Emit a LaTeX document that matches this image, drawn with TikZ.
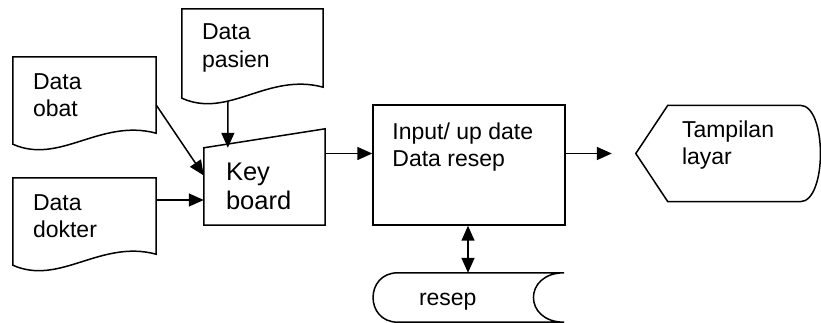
\documentclass[tikz,border=0pt]{standalone}
\usepackage{fontspec}
\setmainfont{Liberation Sans}
\usetikzlibrary{arrows.meta,calc}

\tikzset{
  garis/.style={line width=1.5pt, black, line join=miter},
  panah/.style={line width=1.5pt, ->},
  badan/.style={inner xsep=20pt, inner ysep=0pt, align=left, font=\fontsize{23pt}{27.5pt}\selectfont},
}

\begin{document}
\begin{tikzpicture}[x=1pt, y=1pt, >={Triangle[length=15pt,width=13pt]}]
  \useasboundingbox (0,0) rectangle (821,323);

  % 1. Dokumen masukan (pasien, obat, dokter)
  \node[badan, minimum height=78pt, text width=101pt] (pasien) at (252.5,275) {Data\\pasien};
  \node[badan, minimum height=76pt, text width=103pt] (obat) at (84.5,228) {Data\\obat};
  \node[badan, minimum height=76pt, text width=103pt] (dokter) at (84.5,107) {Data\\dokter};
  \foreach \d in {pasien,obat,dokter}
    \draw[garis] (\d.south east) -- (\d.north east) -- (\d.north west) -- ([yshift=-11pt]\d.south west)
      .. controls ([xshift=47pt,yshift=-32pt]\d.south west) and ([xshift=-56pt,yshift=15pt]\d.south east) .. (\d.south east) -- cycle;

  % 2. Keyboard (input manual)
  \node[badan, font=\fontsize{25.5pt}{29pt}\selectfont, inner xsep=22pt, text width=77pt, minimum height=77pt] (kb) at (264.5,136.5) {Key\\board};
  \draw[garis] (kb.north west) -- ([yshift=19pt]kb.north east) -- (kb.south east) -- (kb.south west) -- cycle;

  % 3. Proses input / update
  \node[garis, draw, minimum width=192pt, minimum height=120pt, inner sep=0pt,
        label={[badan, anchor=north west, yshift=-18pt]north west:Input/ up date\\Data resep}] (proses) at (469,158) {};

  % 4. Tampilan layar (display)
  \node[minimum width=132pt, minimum height=96pt, inner sep=0pt,
        label={[badan, anchor=north west, xshift=-6pt, yshift=-15pt]north west:Tampilan\\layar}] (layar) at (734,169.5) {};
  \draw[garis] (layar.north west) -- ([xshift=-32pt]layar.west) -- (layar.south west) -- (layar.south east)
    .. controls ([xshift=27pt]layar.south east) and ([xshift=27pt]layar.north east) .. (layar.north east) -- cycle;

  % 5. File resep (penyimpanan)
  \node[badan, inner xsep=21pt, text width=124pt, minimum height=49pt, text height=17pt, text depth=0pt] (resep) at (481,25.5) {resep};
  \draw[garis] (resep.north west) -- (resep.north east)
    .. controls ([xshift=-41pt]resep.north east) and ([xshift=-41pt]resep.south east) .. (resep.south east)
    -- (resep.south west)
    .. controls ([xshift=-33pt]resep.south west) and ([xshift=-33pt]resep.north west) .. (resep.north west) -- cycle;

  % 6. Panah
  \draw[panah] ([xshift=-24.5pt,yshift=-14pt]pasien.south) -- ([xshift=24pt]kb.north west);
  \draw[panah] ([yshift=-10pt]obat.east) -- ([yshift=11pt]kb.west);
  \draw[panah] ([yshift=16pt]dokter.east) -- ([yshift=-13.5pt]kb.west);
  \draw[panah] ([yshift=33pt]kb.east) -- ([yshift=11.5pt]proses.west);
  \draw[panah] ([yshift=11.5pt]proses.east) -- ([xshift=-56pt]layar.west);
  \draw[panah, <->] ([xshift=-1pt]proses.south) -- ([xshift=-1pt]proses.south |- resep.north);
\end{tikzpicture}
\end{document}
